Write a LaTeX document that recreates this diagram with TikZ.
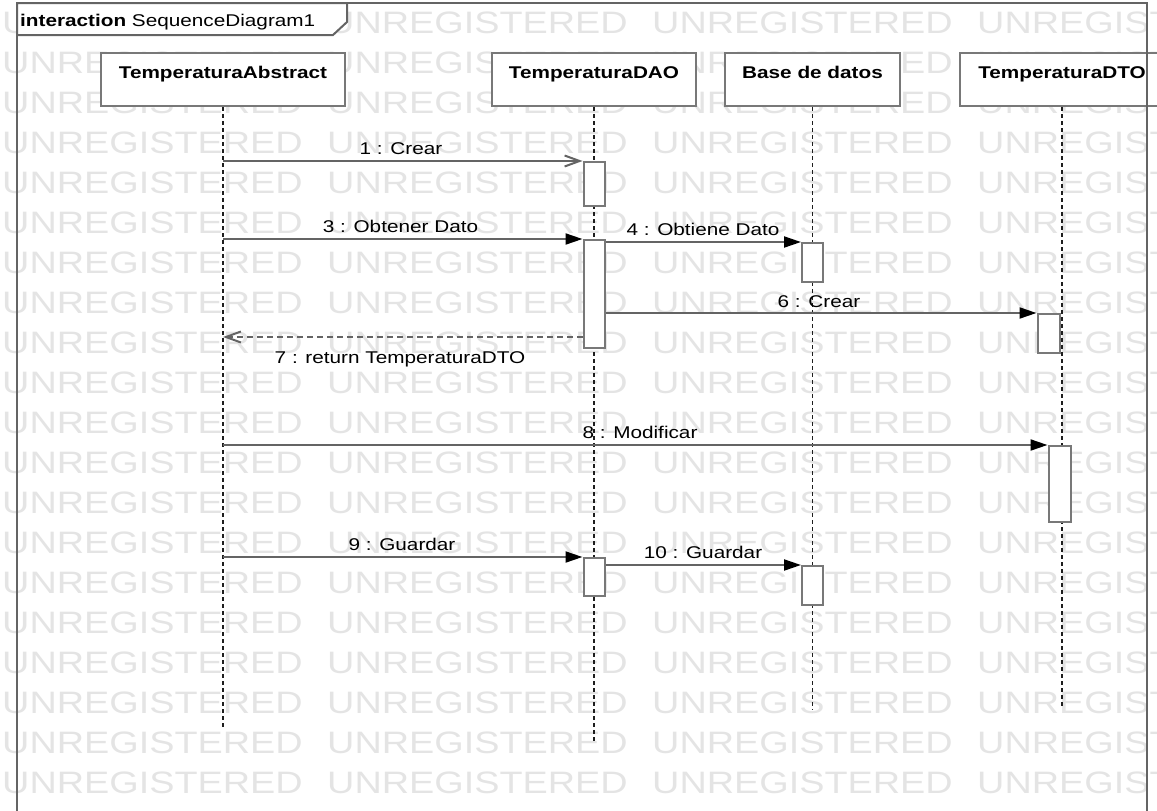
\documentclass[tikz,border=0pt]{standalone}
\usepackage{fontspec}
\setmainfont{Liberation Sans}[FakeStretch=1.22]
\usetikzlibrary{arrows.meta}
\definecolor{wmgray}{RGB}{228,228,228}
\definecolor{linegray}{RGB}{100,100,100}
\definecolor{boxgray}{RGB}{120,120,120}
\definecolor{lifeblack}{RGB}{30,30,30}
\begin{document}
\begin{tikzpicture}[x=1pt,y=-1pt,
  wm/.style={font=\fontsize{31}{31}\selectfont, text=wmgray, inner sep=0pt, anchor=base west},
  headbox/.style={draw=boxgray, line width=2pt, fill=white, minimum height=53pt, inner sep=0pt},
  headtext/.style={font=\bfseries\fontsize{17}{17}\selectfont, anchor=base, inner sep=0pt},
  lifeline/.style={draw=lifeblack, line width=1.6pt, dash pattern=on 4pt off 3pt},
  actbar/.style={draw=boxgray, line width=2pt, fill=white, inner sep=0pt, minimum width=21pt},
  call/.style={draw=linegray, line width=2pt, -{Triangle[length=17pt,width=11pt,color=black]}},
  create/.style={draw=linegray, line width=2pt, -{Straight Barb[length=15pt,width=11pt]}},
  reply/.style={draw=linegray, line width=2pt, dash pattern=on 6pt off 4pt, -{Straight Barb[length=15pt,width=11pt,color=linegray]}},
  msglabel/.style={font=\fontsize{17}{17}\selectfont, anchor=base, inner sep=0pt},
  frameline/.style={draw=linegray, line width=2pt},
]
\useasboundingbox (0,0) rectangle (1157,811);
\clip (0,0) rectangle (1157,811);
% watermark
\foreach \k in {0,...,19} {
  \foreach \j/\xx in {0/2,1/327,2/652,3/977} {
    \node[wm] (wm-\k-\j) at (\xx,{33+40*\k}) {UNREGISTERED};
  }
}
% lifeline heads
\node[headbox, minimum width=244pt] (ta) at (223,79.5) {};
\node[headbox, minimum width=204pt] (dao) at (594,79.5) {};
\node[headbox, minimum width=175pt] (bd) at (812.5,79.5) {};
\node[headbox, minimum width=204pt] (dto) at (1062,79.5) {};
% lifelines
\coordinate (ta-end) at (223,727);
\coordinate (dao-end) at (594,741);
\coordinate (bd-end) at (812.5,710);
\coordinate (dto-end) at (1062,706);
\draw[lifeline] (ta.south) -- (ta-end);
\draw[lifeline] (dao.south) -- (dao-end);
\draw[lifeline] (bd.south) -- (bd-end);
\draw[lifeline] (dto.south) -- (dto-end);
% head texts
\node[headtext] (ta-t) at (223,78) {TemperaturaAbstract};
\node[headtext] (dao-t) at (594,78) {TemperaturaDAO};
\node[headtext] (bd-t) at (812.5,78) {Base de datos};
\node[headtext] (dto-t) at (1062,78) {TemperaturaDTO};
% activation bars
\node[actbar, minimum height=44pt] (dao1) at (594,184) {};
\node[actbar, minimum height=108pt] (dao2) at (594,294) {};
\node[actbar, minimum height=38pt] (dao3) at (594,577) {};
\node[actbar, minimum height=39pt] (bd1) at (812.5,262.5) {};
\node[actbar, minimum height=39pt] (bd2) at (812.5,585.5) {};
\node[actbar, minimum width=22pt, minimum height=39pt] (dto1) at (1048.5,333.5) {};
\node[actbar, minimum width=22pt, minimum height=76pt] (dto2) at (1059.5,484) {};
% messages
\draw[create] (ta.south |- dao1.north west) -- (dao1.north west);
\draw[call] (ta.south |- dao2.north west) -- (dao2.north west);
\draw[call] (dao2.east |- bd1.north west) -- (bd1.north west);
\draw[call] (dao2.east |- dto1.north west) -- (dto1.north west);
\path (dao2.west) ++(0,43) coordinate (r7s);
\draw[reply] (r7s) -- (ta.south |- r7s);
\draw[call] (ta.south |- dto2.north west) -- (dto2.north west);
\draw[call] (ta.south |- dao3.north west) -- (dao3.north west);
\draw[call] (dao3.east |- bd2.north west) -- (bd2.north west);
% message labels
\node[msglabel] (l1) at (401,154) {1 : Crear};
\node[msglabel] (l3) at (400.5,232) {3 : Obtener Dato};
\node[msglabel] (l4) at (703,235) {4 : Obtiene Dato};
\node[msglabel] (l6) at (819,307) {6 : Crear};
\node[msglabel] (l7) at (400,363) {7 : return TemperaturaDTO};
\node[msglabel] (l8) at (640,438) {8 : Modificar};
\node[msglabel] (l9) at (402,550) {9 : Guardar};
\node[msglabel] (l10) at (703,558) {10 : Guardar};
% frame
\draw[frameline] (17,840) -- (17,3) -- (1147,3) -- (1147,840);
\draw[frameline, fill=white] (17,3) -- (347,3) -- (347,22) -- (333,35) -- (17,35) -- cycle;
\node[anchor=base west, inner sep=0pt, font=\fontsize{17}{17}\selectfont] (flabel) at (20,27) {\textbf{interaction} SequenceDiagram1};
\end{tikzpicture}
\end{document}
